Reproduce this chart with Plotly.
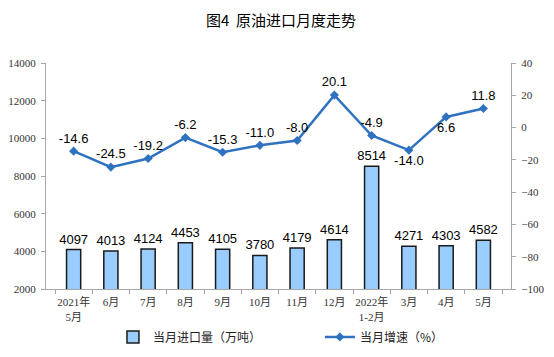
import plotly.graph_objects as go

categories = ["2021年<br>5月", "6月", "7月", "8月", "9月", "10月", "11月", "12月",
              "2022年<br>1-2月", "3月", "4月", "5月"]
imports = [4097, 4013, 4124, 4453, 4105, 3780, 4179, 4614, 8514, 4271, 4303, 4582]
growth = [-14.6, -24.5, -19.2, -6.2, -15.3, -11.0, -8.0, 20.1, -4.9, -14.0, 6.6, 11.8]
growth_pos = ["top center"] * 9 + ["bottom center", "bottom center", "top center"]

tick_font = dict(family="Liberation Serif, Noto Sans CJK SC", size=11, color="#333333")
axis_color = "#A6A6A6"
legend_font = dict(family="Noto Sans CJK SC", size=12, color="#222222")

fig = go.Figure()
fig.add_trace(go.Bar(
    x=categories, y=imports, name="当月进口量（万吨）",
    marker=dict(color="#99CCFF", line=dict(color="#1a1a1a", width=1.5)),
    width=0.38,
    text=[str(v) for v in imports], textposition="outside", constraintext="none",
    textfont=dict(family="Liberation Sans, Arial", size=13, color="#000000"),
    cliponaxis=False, legend="legend",
))
fig.add_trace(go.Scatter(
    x=categories, y=growth, name="当月增速（%）", yaxis="y2",
    mode="lines+markers+text",
    line=dict(color="#2E72C0", width=2.5),
    marker=dict(symbol="diamond", size=7, color="#2E72C0"),
    text=[f"{v:.1f}" for v in growth], textposition=growth_pos,
    textfont=dict(family="Liberation Sans, Arial", size=13, color="#000000"),
    cliponaxis=False, legend="legend2",
))

fig.update_layout(
    width=546, height=349,
    margin=dict(l=38, r=43, t=55, b=68, autoexpand=False),
    paper_bgcolor="white", plot_bgcolor="white",
    title=dict(text="图4  原油进口月度走势", x=0.5, xanchor="center", y=0.964, yanchor="middle",
               font=dict(family="Noto Sans CJK SC", size=15, color="#000000")),
    showlegend=True,
    legend=dict(orientation="h", x=0.144, xanchor="left", y=-0.212, yanchor="middle",
                font=legend_font, bgcolor="rgba(0,0,0,0)"),
    legend2=dict(orientation="h", x=0.589, xanchor="left", y=-0.212, yanchor="middle",
                 font=legend_font, bgcolor="rgba(0,0,0,0)"),
    xaxis=dict(type="category", showline=True, linecolor=axis_color, linewidth=1,
               ticks="outside", tickson="boundaries", ticklen=4, tickcolor=axis_color,
               tickfont=tick_font, tickangle=0, ticklabelstandoff=3,
               showgrid=False, automargin=False),
    yaxis=dict(range=[2000, 14000], dtick=2000, tickformat="d", showline=True, linecolor=axis_color,
               ticks="outside", ticklen=4, tickcolor=axis_color, tickfont=tick_font,
               ticklabelstandoff=3,
               showgrid=False, zeroline=False, automargin=False),
    yaxis2=dict(range=[-100, 40], dtick=20, overlaying="y", side="right", showline=True,
                linecolor=axis_color, ticks="outside", ticklen=4, tickcolor=axis_color,
                tickfont=tick_font, ticklabelstandoff=3,
                showgrid=False, zeroline=False, automargin=False),
)

fig.write_html("out.html")
